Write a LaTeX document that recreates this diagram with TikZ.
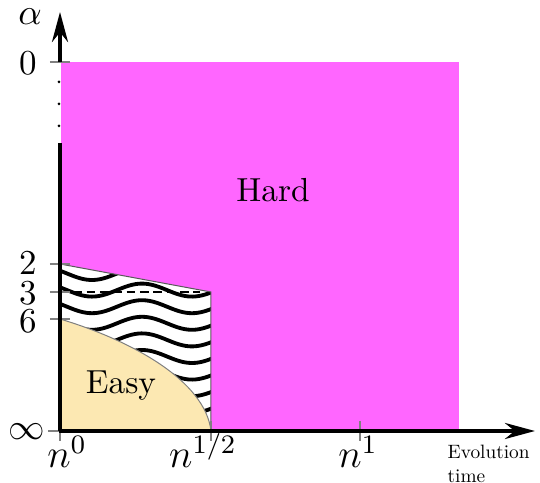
\documentclass[tikz,border=0pt]{standalone}
\usetikzlibrary{arrows.meta}
\definecolor{hardc}{RGB}{255,102,255}
\definecolor{easyc}{RGB}{252,232,178}
\begin{document}
\begin{tikzpicture}[x=0.3pt,y=-0.3pt,
  axisline/.style={line width=1.2pt},
  axisarrow/.style={line width=1.2pt,-{Stealth[length=9pt,width=4.8pt]}},
  tickmark/.style={gray,line width=0.45pt},
  waveline/.style={line width=1.15pt},
  edgeline/.style={gray!70!black,line width=0.3pt},
  ylab/.style={font=\fontsize{10.5}{12}\selectfont,inner sep=0pt},
  xlab/.style={font=\large,inner sep=0pt,anchor=base}]
\useasboundingbox (0,0) rectangle (540,483);
% regions
\fill[hardc] (61,62) rectangle (459,431);
\coordinate (A) at (60,264);
\coordinate (B) at (211,292);
\coordinate (C) at (211,431);
\coordinate (O) at (60,431);
\coordinate (E0) at (60,319);
\fill[white] (A) -- (B) -- (C) -- (O) -- cycle;
\begin{scope}
\clip (A) -- (B) -- (C) -- (O) -- cycle;
\foreach \c in {273.5,290.1,306.7,323.3,339.9,356.5,373.1,389.7,406.3,422.9,439.5}
  \draw[waveline] plot[domain=50:220,samples=70,smooth] (\x,{\c+6.5*cos(3.6*(\x-92))});
\end{scope}
\draw[edgeline] (A) -- (B) -- (C);
\filldraw[fill=easyc,draw=gray,line width=0.3pt] (O) -- (E0) .. controls (130,340) and (205,380) .. (C) -- cycle;
\draw[line width=0.6pt,dash pattern=on 2.6pt off 1.4pt] (60,292) -- (200,292);
% ticks
\draw[tickmark] (50,62) -- (70,62);
\draw[tickmark] (50,264) -- (70,264);
\draw[tickmark] (50,292) -- (70,292);
\draw[tickmark] (50,319) -- (70,319);
\draw[tickmark] (48,431) -- (60,431);
\draw[tickmark] (60,431) -- (60,441);
\draw[tickmark] (211,421) -- (211,441);
\draw[tickmark] (360,421) -- (360,441);
% axes
\coordinate (Ytop) at (60,12);
\coordinate (Y0) at (60,62);
\coordinate (Ys) at (60,143);
\coordinate (Xend) at (535,431);
\draw[axisarrow] (Y0) -- (Ytop);
\draw[axisline] (O) -- (Ys);
\foreach \d in {82,104,126} \fill (59,\d) circle[radius=1.5];
\draw[axisarrow] (59,431) -- (Xend);
% labels
\node[ylab] (alpha) at (30,17) {$\alpha$};
\node[ylab,anchor=base] (l0) at (28,75) {0};
\node[ylab,anchor=base] (l2) at (28,275) {2};
\node[ylab,anchor=base] (l3) at (28,305) {3};
\node[ylab,anchor=base] (l6) at (28,333) {6};
\node[ylab] (linf) at (27,432) {$\infty$};
\node[xlab] (n0) at (67,468) {$n^0$};
\node[xlab] (nh) at (203,468) {$n^{1/2}$};
\node[xlab] (n1) at (358,468) {$n^1$};
\node[anchor=north west,inner sep=0pt] (evo) at (447,442) {\scalebox{0.58}{\begin{tabular}{@{}l@{}}Evolution\\time\end{tabular}}};
\node[anchor=base] (hard) at (273,202) {Hard};
\node[anchor=base] (easy) at (121,394) {Easy};
\end{tikzpicture}
\end{document}
